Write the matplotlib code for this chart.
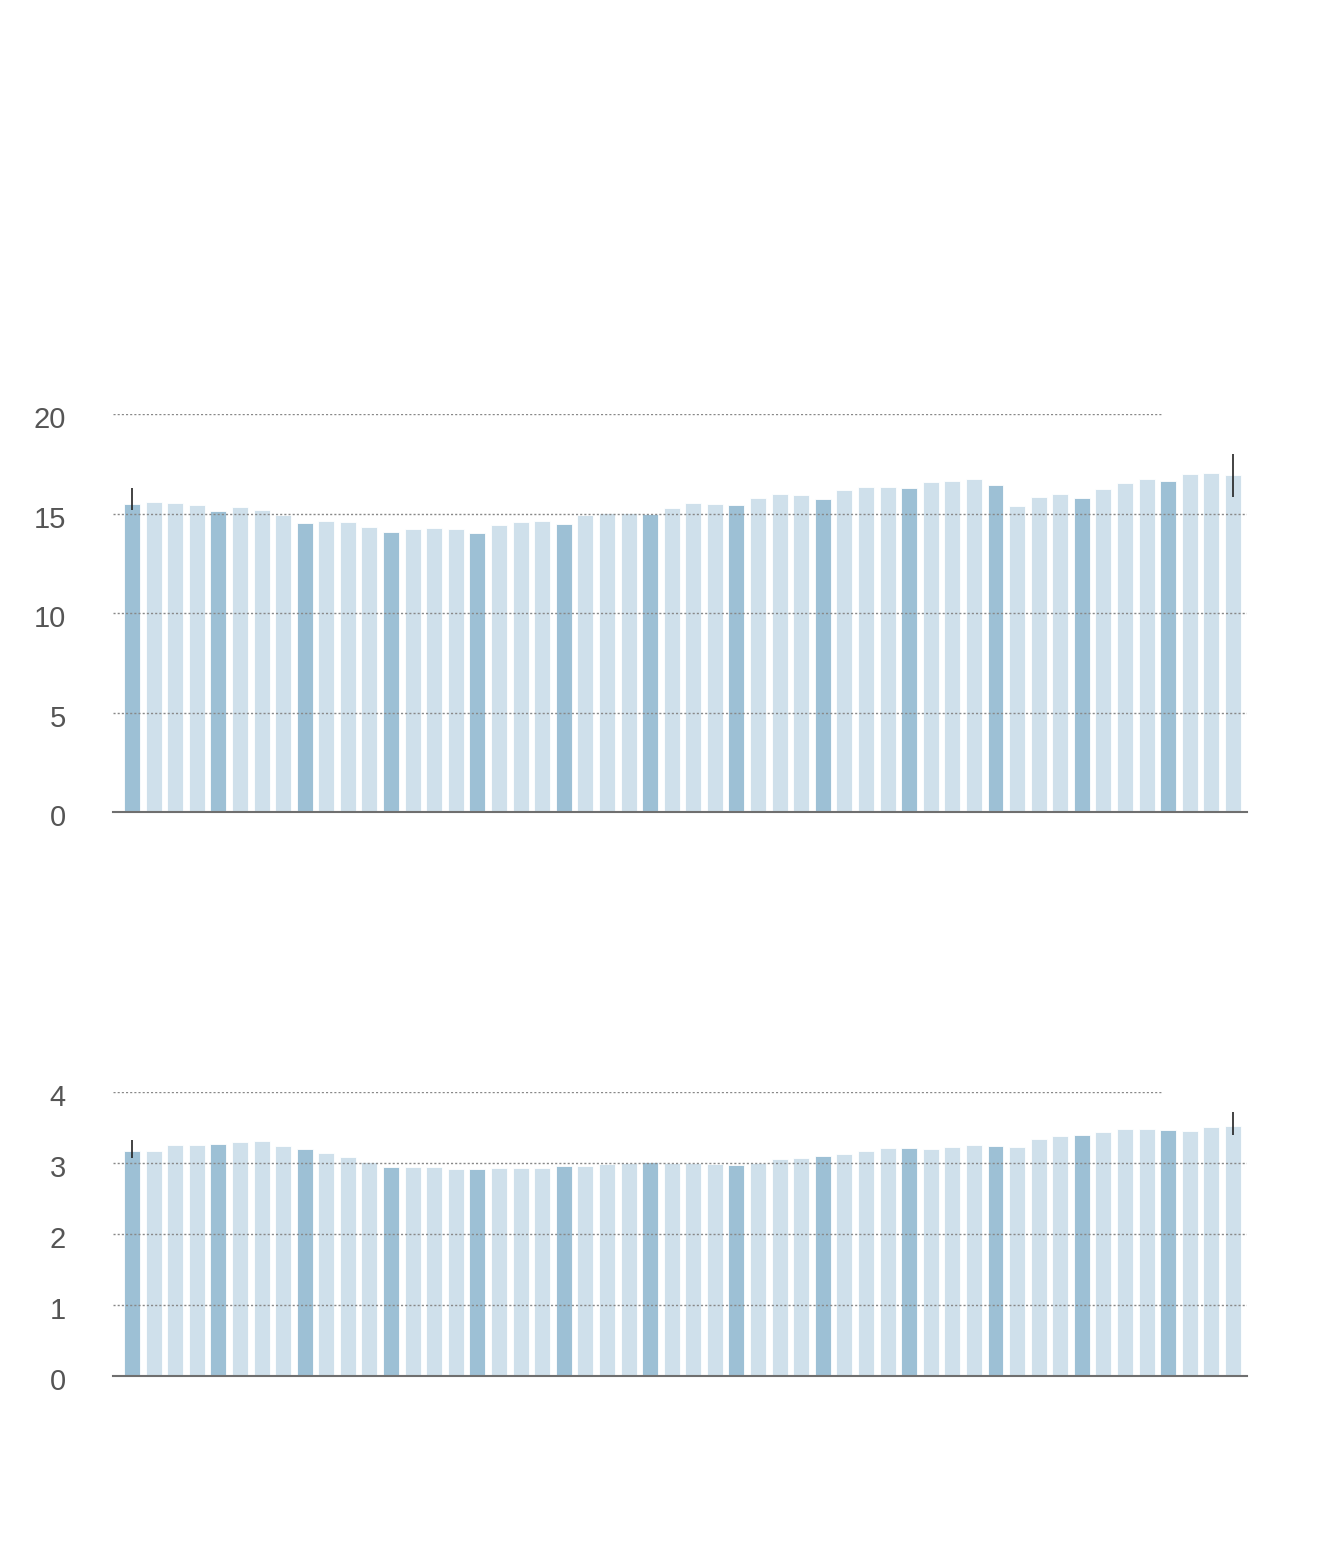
import matplotlib
matplotlib.use('Agg')
import matplotlib.pyplot as plt
import matplotlib.transforms as mtransforms
import numpy as np

plt.rcParams['font.family'] = ['Liberation Sans', 'DejaVu Sans']

# top panel values (52 periods, every 4th one highlighted)
top_values = [
    15.48, 15.58, 15.55, 15.43, 15.13, 15.32, 15.18, 14.91,
    14.54, 14.61, 14.57, 14.31, 14.07, 14.21, 14.27, 14.21,
    14.02, 14.42, 14.57, 14.62, 14.48, 14.90, 15.03, 15.05,
    14.98, 15.30, 15.53, 15.50, 15.45, 15.80, 15.98, 15.91,
    15.75, 16.20, 16.35, 16.35, 16.26, 16.60, 16.65, 16.72,
    16.43, 15.38, 15.83, 15.96, 15.80, 16.23, 16.53, 16.72,
    16.63, 17.00, 17.03, 16.93,
]
top_ranges = [(15.18, 16.28), (15.81, 17.99)]  # first and last bar
top_ticks = [0, 5, 10, 15, 20]

# bottom panel values
bottom_values = [
    3.165, 3.17, 3.26, 3.25, 3.27, 3.30, 3.31, 3.235,
    3.20, 3.14, 3.085, 3.02, 2.95, 2.94, 2.94, 2.91,
    2.92, 2.935, 2.93, 2.93, 2.96, 2.955, 2.985, 3.00,
    3.015, 3.00, 3.00, 2.99, 2.97, 3.00, 3.055, 3.075,
    3.10, 3.12, 3.17, 3.21, 3.21, 3.20, 3.23, 3.255,
    3.245, 3.225, 3.34, 3.38, 3.395, 3.44, 3.48, 3.475,
    3.465, 3.45, 3.505, 3.525,
]
bottom_ranges = [(3.075, 3.33), (3.40, 3.72)]
bottom_ticks = [0, 1, 2, 3, 4]

DARK = '#9dc0d5'
LIGHT = '#cfe0eb'
GRID = '#888888'
TEXT = '#555555'

W, H = 1320, 1560
fig = plt.figure(figsize=(W / 100, H / 100), dpi=100)

X0, X1 = 113, 1247
XMIN, XMAX = -0.88, 51.65
TOP_GRID_END = 47.7


def draw_panel(ax, values, ranges, ticks):
    x = np.arange(len(values))
    colors = [DARK if i % 4 == 0 else LIGHT for i in x]
    ax.bar(x, values, width=0.74, color=colors, edgecolor='white', linewidth=0.6, zorder=2)
    ymax = ticks[-1]
    for t in ticks[1:-1]:
        ax.axhline(t, color=GRID, lw=1, ls=(0, (1.5, 1.5)), zorder=3)
    ax.hlines(ymax, XMIN, TOP_GRID_END, color=GRID, lw=1, ls=(0, (1.5, 1.5)), zorder=3)
    ax.axhline(0, color='#6f6f6f', lw=1.5, zorder=4, clip_on=False)
    for idx, (lo, hi) in zip([0, len(values) - 1], ranges):
        ax.vlines(idx, lo, hi, color='#222222', lw=1.2, zorder=5)
    ax.set_xlim(XMIN, XMAX)
    ax.set_ylim(0, ymax)
    ax.set_yticks(ticks)
    ax.set_yticklabels([str(t) for t in ticks])
    ax.tick_params(axis='y', length=0, pad=34, labelsize=21, labelcolor=TEXT)
    shift = mtransforms.ScaledTranslation(0, -3 / 100, fig.dpi_scale_trans)
    for lab in ax.get_yticklabels():
        lab.set_horizontalalignment('right')
        lab.set_transform(lab.get_transform() + shift)
    ax.set_xticks([])
    for s in ax.spines.values():
        s.set_visible(False)
    ax.patch.set_alpha(0)


ax1 = fig.add_axes([X0 / W, 1 - 812 / H, (X1 - X0) / W, (812 - 414) / H])
draw_panel(ax1, top_values, top_ranges, top_ticks)

ax2 = fig.add_axes([X0 / W, 1 - 1376 / H, (X1 - X0) / W, (1376 - 1092) / H])
draw_panel(ax2, bottom_values, bottom_ranges, bottom_ticks)

fig.savefig('out.png', dpi=100, facecolor='white')
